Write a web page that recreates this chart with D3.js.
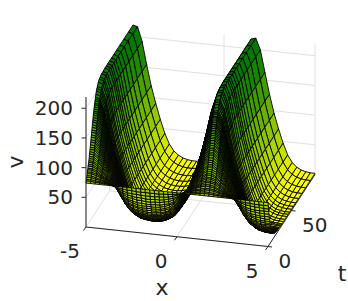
<!DOCTYPE html>
<html>
<head>
<meta charset="utf-8">
<script src="https://d3js.org/d3.v7.min.js"></script>
<style>
  body { margin: 0; background: #fff; }
  text { font-family: "DejaVu Sans", sans-serif; fill: #262626; }
</style>
</head>
<body>
<div id="container"></div>
<script>
// grid of the surface
const xValues = [-5,-4.75,-4.5,-4.25,-4,-3.75,-3.5,-3.25,-3,-2.75,-2.5,-2.25,-2,-1.75,-1.5,-1.25,-1,-0.75,-0.5,-0.25,0,0.25,0.5,0.75,1,1.25,1.5,1.75,2,2.25,2.5,2.75,3,3.25,3.5,3.75,4,4.25,4.5,4.75,5];
const tValues = [0,0.5,1,1.5,2,2.5,3,3.5,4,4.5,5,5.5,6,6.5,7,7.5,8,8.5,9,9.5,10,10.5,11,11.5,12,12.5,13,13.5,14,14.5,15,15.5,16,16.5,17,17.5,18,18.5,19,19.5,20,21,22,23,24,26,28,30,33,36,40,43,46,50,54,59,65,72,80,90,100];

// one row per t value, one column per x value
const vRows = [
  [74,74,74,74,74,74,74,74,74,74,74,74,74,74,74,74,74,74,74,74,74,74,74,74,74,74,74,74,74,74,74,74,74,74,74,74,74,74,74,74,74],
  [77,77,76,76,75,75,73,71,70,69,69,68,68,68,68,68,68,69,69,70,71,73,75,75,76,76,77,77,76,76,75,75,74,72,70,69,69,68,68,68,68],
  [79,79,78,77,76,75,73,69,66,64,63,63,62,62,62,62,63,63,64,66,69,73,75,76,77,78,79,79,78,77,76,75,73,70,67,65,64,63,63,62,62],
  [82,82,80,79,77,75,72,66,62,60,58,57,57,56,56,57,57,58,60,62,66,72,75,77,79,80,82,82,81,79,77,76,73,68,63,60,58,57,57,57,57],
  [84,84,82,80,77,75,71,64,59,55,54,52,52,51,51,52,52,54,55,59,64,71,75,77,80,82,84,84,83,80,78,76,73,66,60,56,54,53,52,52,52],
  [87,87,85,82,78,76,71,62,55,51,49,47,47,46,46,47,47,49,51,55,62,71,76,78,82,85,87,87,85,82,79,76,73,64,57,52,49,48,47,47,47],
  [89,89,87,83,79,76,70,60,52,48,45,43,42,42,42,42,43,45,48,52,60,70,76,79,83,87,89,89,87,83,80,76,72,62,54,49,45,44,43,42,42],
  [92,92,89,84,80,76,70,58,50,44,41,39,38,38,38,38,39,41,44,50,58,70,76,80,84,89,92,92,90,85,81,77,72,60,51,45,42,40,38,38,38],
  [94,94,91,85,80,76,69,56,47,41,38,36,34,34,34,34,36,38,41,47,56,69,76,80,85,91,94,94,92,87,81,77,72,59,49,42,38,36,35,34,34],
  [97,97,93,87,81,77,69,55,45,38,34,32,31,30,30,31,32,34,38,45,55,69,77,81,87,93,97,97,94,88,82,78,72,58,46,39,35,33,31,31,31],
  [99,99,95,88,82,77,68,54,43,36,32,29,28,27,27,28,29,32,36,43,54,68,77,82,88,95,99,99,96,90,83,78,71,57,45,37,32,30,29,28,28],
  [102,102,97,90,83,78,68,52,41,34,29,26,25,24,24,25,26,29,34,41,52,68,78,83,90,97,102,102,98,92,84,79,71,56,43,35,30,27,26,25,25],
  [104,104,99,91,84,78,68,51,39,31,27,24,23,22,22,23,24,27,31,39,51,68,78,84,91,99,104,104,100,93,85,79,71,55,41,33,28,25,24,23,23],
  [107,107,102,93,85,78,67,50,38,30,25,22,21,20,20,21,22,25,30,38,50,67,78,85,93,102,107,107,103,95,86,80,71,54,40,31,26,23,21,21,21],
  [110,110,104,94,86,78,67,49,36,28,23,20,19,18,18,19,20,23,28,36,49,67,78,86,94,104,110,110,106,96,87,80,71,53,39,29,24,21,19,19,19],
  [114,113,107,96,87,79,67,48,35,26,22,18,17,16,16,17,18,22,26,35,48,67,79,87,96,107,113,114,109,98,89,80,71,52,38,28,22,19,18,17,17],
  [117,116,109,98,88,79,67,48,34,25,21,17,16,15,15,16,17,21,25,34,48,67,79,88,98,109,116,117,111,100,90,80,71,52,37,27,21,18,17,16,16],
  [120,120,112,100,89,80,66,47,33,24,19,16,14,13,13,14,16,19,24,33,47,66,80,89,100,112,120,120,114,102,91,81,71,51,36,26,20,16,15,14,14],
  [123,123,115,102,90,80,66,47,32,23,18,15,13,12,12,13,15,18,23,32,47,66,80,90,102,115,123,123,117,104,92,81,71,51,35,25,19,15,14,13,13],
  [127,126,118,104,91,81,66,46,31,22,17,13,12,11,11,12,13,17,22,31,46,66,81,91,104,118,126,127,120,106,93,82,71,50,34,24,18,14,13,12,12],
  [131,130,120,106,92,81,66,46,31,21,16,12,11,10,10,11,12,16,21,31,46,66,81,92,106,120,130,131,123,109,95,83,71,50,34,23,17,13,12,11,11],
  [134,133,123,108,93,81,66,45,30,20,15,11,10,9,9,10,11,15,20,30,45,66,81,93,108,123,133,134,126,111,96,83,70,50,33,22,16,13,11,10,10],
  [138,137,126,110,94,82,66,45,30,20,15,11,9,8,8,9,11,15,20,30,45,66,82,94,110,126,137,138,129,113,97,84,70,50,33,22,16,12,10,9,9],
  [141,140,129,112,95,82,66,45,29,19,14,10,9,8,8,9,10,14,19,29,45,66,82,95,112,129,140,141,132,115,98,84,70,49,32,21,15,11,9,9,9],
  [145,144,132,114,97,82,66,45,29,19,13,10,8,7,7,8,10,13,19,29,45,66,82,97,114,132,144,145,136,118,100,85,70,49,32,21,14,11,9,8,8],
  [148,147,135,116,98,83,66,44,28,18,13,9,8,7,7,8,9,13,18,28,44,66,83,98,116,135,147,148,139,120,101,85,70,49,31,20,14,10,8,8,8],
  [152,151,138,118,99,83,66,44,28,18,13,9,7,6,6,7,9,13,18,28,44,66,83,99,118,138,151,152,142,122,103,86,70,49,31,20,14,10,8,7,7],
  [156,154,141,120,100,83,65,44,28,17,12,8,6,5,5,6,8,12,17,28,44,65,83,100,120,141,154,156,145,124,104,86,70,48,30,19,13,9,7,6,6],
  [160,158,144,122,101,84,65,44,28,17,12,8,6,5,5,6,8,12,17,28,44,65,84,101,122,144,158,160,148,127,105,87,70,48,30,19,13,9,7,6,6],
  [163,161,147,123,102,84,65,43,27,17,11,8,6,5,5,6,8,11,17,27,43,65,84,102,123,147,161,163,151,128,106,87,70,48,30,19,12,8,7,6,6],
  [166,165,150,125,103,85,65,43,27,17,11,7,5,4,4,5,7,11,17,27,43,65,85,103,125,150,165,166,154,130,108,88,70,48,30,19,12,8,6,5,5],
  [170,168,152,127,104,85,65,43,27,16,11,7,5,4,4,5,7,11,16,27,43,65,85,104,127,152,168,170,157,132,109,88,70,48,30,18,12,8,6,5,5],
  [173,171,155,129,105,86,65,43,27,16,11,7,5,4,4,5,7,11,16,27,43,65,86,105,129,155,171,173,160,135,110,89,70,48,30,18,12,8,6,5,5],
  [175,174,158,131,106,86,65,43,27,16,11,7,5,4,4,5,7,11,16,27,43,65,86,106,131,158,174,175,162,136,111,89,70,48,30,18,12,8,6,5,5],
  [178,177,160,132,107,86,65,43,27,16,10,6,5,4,4,5,6,10,16,27,43,65,86,107,132,160,177,178,165,138,112,90,70,48,30,18,11,7,5,5,5],
  [181,180,162,134,108,87,65,43,26,16,10,6,5,4,4,5,6,10,16,26,43,65,87,108,134,162,180,181,168,140,113,90,70,48,30,18,11,7,5,5,5],
  [184,183,164,136,109,87,65,43,26,16,10,6,4,3,3,4,6,10,16,26,43,65,87,109,136,164,183,184,170,142,114,91,70,48,29,18,11,7,5,4,4],
  [186,185,166,137,110,87,65,43,26,16,10,6,4,3,3,4,6,10,16,26,43,65,87,110,137,166,185,186,172,143,115,91,70,48,29,18,11,7,5,4,4],
  [189,188,169,138,111,88,65,43,26,15,10,6,4,3,3,4,6,10,15,26,43,65,88,111,138,169,188,189,174,145,116,92,70,48,29,17,11,7,5,4,4],
  [191,190,170,140,111,88,65,43,26,15,10,5,4,3,3,4,5,10,15,26,43,65,88,111,140,170,190,191,176,146,117,92,70,48,29,17,10,6,5,4,4],
  [194,192,172,141,112,88,65,43,26,15,9,5,3,3,3,3,5,9,15,26,43,65,88,112,141,172,192,194,178,147,118,92,70,48,29,17,10,6,4,3,3],
  [198,196,176,143,113,89,65,42,26,15,9,5,3,2,2,3,5,9,15,26,42,65,89,113,143,176,196,198,182,150,119,93,70,47,29,17,10,6,4,3,3],
  [202,200,179,145,115,89,65,42,26,15,9,5,3,2,2,3,5,9,15,26,42,65,89,115,145,179,200,202,185,152,121,93,70,47,29,17,10,6,4,3,3],
  [205,203,181,147,116,90,65,42,26,15,9,5,3,2,2,3,5,9,15,26,42,65,90,116,147,181,203,205,188,154,122,94,70,47,28,17,10,6,4,3,3],
  [207,206,184,149,116,90,65,42,25,15,9,5,3,2,2,3,5,9,15,25,42,65,90,116,149,184,206,207,190,156,123,94,70,47,28,17,10,6,4,3,3],
  [212,210,187,151,118,90,65,42,25,15,9,5,3,2,2,3,5,9,15,25,42,65,90,118,151,187,210,212,194,159,124,95,70,47,28,17,10,6,4,3,3],
  [215,213,189,153,119,90,65,42,25,14,8,4,3,2,2,3,4,8,14,25,42,65,90,119,153,189,213,215,196,160,125,95,70,47,28,16,9,5,4,2,2],
  [216,214,191,153,119,91,65,42,25,14,8,4,2,1,1,2,4,8,14,25,42,65,91,119,153,191,214,216,197,161,126,96,70,47,28,16,9,5,3,2,2],
  [218,216,192,154,120,91,65,42,25,14,8,4,2,1,1,2,4,8,14,25,42,65,91,120,154,192,216,218,199,162,126,96,70,47,28,16,9,5,3,2,2],
  [218,216,193,155,120,91,65,42,25,14,8,4,2,1,1,2,4,8,14,25,42,65,91,120,155,193,216,218,199,163,127,96,70,47,28,16,9,5,3,2,2],
  [219,217,193,155,120,91,65,42,25,14,8,4,2,1,1,2,4,8,14,25,42,65,91,120,155,193,217,219,200,163,127,96,70,47,28,16,9,5,3,2,2],
  [219,217,193,155,120,91,65,42,25,14,8,4,2,1,1,2,4,8,14,25,42,65,91,120,155,193,217,219,200,163,127,96,70,47,28,16,9,5,3,2,2],
  [219,217,193,155,120,91,65,42,25,14,8,4,2,1,1,2,4,8,14,25,42,65,91,120,155,193,217,219,200,163,127,96,70,47,28,16,9,5,3,2,2],
  [219,217,193,155,120,91,65,42,25,14,8,4,2,1,1,2,4,8,14,25,42,65,91,120,155,193,217,219,200,163,127,96,70,47,28,16,9,5,3,2,2],
  [219,217,193,155,120,91,65,42,25,14,8,4,2,1,1,2,4,8,14,25,42,65,91,120,155,193,217,219,200,163,127,96,70,47,28,16,9,5,3,2,2],
  [219,217,193,155,120,91,65,42,25,14,8,4,2,1,1,2,4,8,14,25,42,65,91,120,155,193,217,219,200,163,127,96,70,47,28,16,9,5,3,2,2],
  [219,217,193,155,120,91,65,42,25,14,8,4,2,1,1,2,4,8,14,25,42,65,91,120,155,193,217,219,200,163,127,96,70,47,28,16,9,5,3,2,2],
  [219,217,193,155,120,91,65,42,25,14,8,4,2,1,1,2,4,8,14,25,42,65,91,120,155,193,217,219,200,163,127,96,70,47,28,16,9,5,3,2,2],
  [219,217,193,155,120,91,65,42,25,14,8,4,2,1,1,2,4,8,14,25,42,65,91,120,155,193,217,219,200,163,127,96,70,47,28,16,9,5,3,2,2],
  [219,217,193,155,120,91,65,42,25,14,8,4,2,1,1,2,4,8,14,25,42,65,91,120,155,193,217,219,200,163,127,96,70,47,28,16,9,5,3,2,2],
  [219,217,193,155,120,91,65,42,25,14,8,4,2,1,1,2,4,8,14,25,42,65,91,120,155,193,217,219,200,163,127,96,70,47,28,16,9,5,3,2,2]
];

const xTicks = [-5, 0, 5];
const tTicks = [0, 50];
const vTicks = [50, 100, 150, 200];
const xGrid = [-5, 0, 5];
const tGrid = [0, 50, 100];

const width = 348, height = 301;

const svg = d3.select("#container").append("svg")
  .attr("width", width)
  .attr("height", height)
  .style("display", "block");

// the three box edges on screen, one scale per axis and screen direction
const xToX = d3.scaleLinear().domain([-5, 5]).range([86, 268]);
const xToY = d3.scaleLinear().domain([-5, 5]).range([227, 246.5]);
const tToX = d3.scaleLinear().domain([0, 100]).range([0, 47]);
const tToY = d3.scaleLinear().domain([0, 100]).range([0, -72]);
const vToY = d3.scaleLinear().domain([0, 219]).range([0, -130]);

const project = (x, t, v) => [xToX(x) + tToX(t), xToY(x) + tToY(t) + vToY(v)];

const color = d3.scaleLinear().domain([0, 219]).range(["#ffff00", "#007a00"]);

// grid lines on the floor and the two back walls
const gridLines = [];
xGrid.forEach(x => gridLines.push([project(x, 0, 0), project(x, 100, 0)]));
tGrid.forEach(t => gridLines.push([project(-5, t, 0), project(5, t, 0)]));
vTicks.forEach(v => {
  gridLines.push([project(-5, 0, v), project(-5, 100, v)]);
  gridLines.push([project(-5, 100, v), project(5, 100, v)]);
});
xGrid.forEach(x => gridLines.push([project(x, 100, 0), project(x, 100, 219)]));
tGrid.forEach(t => gridLines.push([project(-5, t, 0), project(-5, t, 219)]));

const line = d3.line();

svg.append("g").selectAll("path")
  .data(gridLines)
  .enter().append("path")
  .attr("d", d => line(d))
  .attr("fill", "none")
  .attr("stroke", "#e0e0e0")
  .attr("stroke-width", 1);

// surface faces, far corner first so nearer ones paint over them
const faces = [];
for (let j = tValues.length - 2; j >= 0; j--) {
  for (let i = 0; i < xValues.length - 1; i++) {
    faces.push({
      v: vRows[j][i],
      corners: [
        project(xValues[i], tValues[j], vRows[j][i]),
        project(xValues[i + 1], tValues[j], vRows[j][i + 1]),
        project(xValues[i + 1], tValues[j + 1], vRows[j + 1][i + 1]),
        project(xValues[i], tValues[j + 1], vRows[j + 1][i])
      ]
    });
  }
}

svg.append("g").selectAll("path")
  .data(faces)
  .enter().append("path")
  .attr("d", d => line(d.corners) + "Z")
  .attr("fill", d => color(d.v))
  .attr("stroke", "#000")
  .attr("stroke-width", 0.9)
  .attr("stroke-linejoin", "round");

// axes
const axes = svg.append("g")
  .attr("fill", "none")
  .attr("stroke", "#262626")
  .attr("stroke-width", 1);

const segment = (a, b) => axes.append("path").attr("d", line([a, b]));

segment(project(-5, 0, 0), project(5, 0, 0));
segment(project(5, 0, 0), project(5, 100, 0));
segment(project(-5, 0, 0), project(-5, 0, 219));

xTicks.forEach(x => {
  const p = project(x, 0, 0);
  segment(p, [p[0] - 2.5, p[1] + 3.5]);
});
tTicks.forEach(t => {
  const p = project(5, t, 0);
  segment(p, [p[0] + 4, p[1] + 0.5]);
});
vTicks.forEach(v => {
  const p = project(-5, 0, v);
  segment(p, [p[0] - 4.5, p[1]]);
});

// tick labels
svg.append("g").selectAll("text")
  .data(vTicks)
  .enter().append("text")
  .attr("x", 73)
  .attr("y", d => project(-5, 0, d)[1] + 7)
  .attr("text-anchor", "end")
  .style("font-size", "20px")
  .text(d => d);

svg.append("g").selectAll("text")
  .data(xTicks)
  .enter().append("text")
  .attr("x", d => project(d, 0, 0)[0] - 16)
  .attr("y", d => project(d, 0, 0)[1] + 31)
  .attr("text-anchor", "middle")
  .style("font-size", "20px")
  .text(d => d);

svg.append("g").selectAll("text")
  .data(tTicks)
  .enter().append("text")
  .attr("x", d => project(5, d, 0)[0] + 10.5)
  .attr("y", d => project(5, d, 0)[1] + 21.5)
  .style("font-size", "20px")
  .text(d => d);

// axis labels
svg.append("text").attr("x", 162).attr("y", 295)
  .attr("text-anchor", "middle").style("font-size", "22px").text("x");

svg.append("text").attr("x", 342).attr("y", 281)
  .attr("text-anchor", "middle").style("font-size", "22px").text("t");

svg.append("text")
  .attr("transform", "translate(23,162) rotate(-90)")
  .attr("text-anchor", "middle")
  .style("font-size", "22px")
  .text("v");
</script>
</body>
</html>
